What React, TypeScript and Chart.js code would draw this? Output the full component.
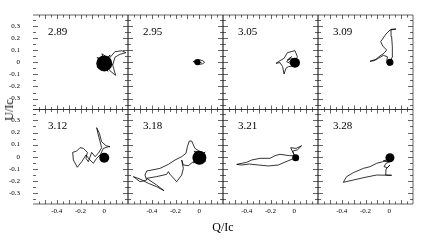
import React, { useEffect, useRef } from 'react';
import { Chart, registerables } from 'chart.js';

Chart.register(...registerables);

// ---------------- DATA ----------------
const panelLabels = ['2.89', '2.95', '3.05', '3.09', '3.12', '3.18', '3.21', '3.28'];
const xTickValues = [-0.4, -0.2, 0];
const yTickValues = [0.3, 0.2, 0.1, 0, -0.1, -0.2, -0.3];
const qRange = [-0.6, 0.2];
const uRange = [-0.39, 0.39];

// trajectories: [Q/Ic, U/Ic]
const path289 = [[0, -0.01], [0.05, 0.06], [-0.06, -0.04], [0.07, -0.02], [-0.06, 0.04], [0.03, -0.075], [-0.02, 0.07], [0.04, 0.03], [0.09, 0.087], [0.147, 0.095], [0.183, 0.079], [0.133, 0.066], [0.09, 0.041], [0.071, -0.023], [0.096, -0.108], [0.048, -0.07], [0.02, -0.03]];
const path295 = [[-0.05, 0.005], [-0.03, 0.02], [0, 0.022], [0.03, 0.012], [0.045, 0], [0.03, -0.012], [0, -0.018], [-0.03, -0.012], [-0.05, 0.005], [-0.02, 0.01], [0.02, -0.005]];
const path305 = [[0.006, -0.004], [0.026, 0.046], [0.006, 0.096], [-0.058, 0.079], [-0.086, 0.032], [-0.12, 0.013], [-0.154, -0.009], [-0.12, -0.003], [-0.098, -0.036], [-0.086, -0.097], [-0.07, -0.05], [-0.05, -0.036], [-0.013, -0.031], [-0.036, -0.009], [-0.064, 0.005], [-0.022, 0.046], [-0.058, 0.019], [-0.013, 0.032], [-0.041, 0.005], [-0.008, 0.019], [0.006, -0.004]];
const path309 = [[0.006, 0], [0.029, 0.052], [0.026, 0.129], [0.02, 0.211], [0.015, 0.272], [0.057, 0.274], [0.006, 0.266], [-0.027, 0.233], [-0.072, 0.17], [-0.055, 0.134], [-0.022, 0.101], [-0.044, 0.074], [-0.078, 0.052], [-0.112, 0.024], [-0.162, 0.008], [-0.128, 0.013], [-0.092, 0.032], [-0.05, 0.057], [-0.016, 0.046], [-0.022, -0.003], [0.001, -0.031], [0.02, -0.009], [0.006, 0]];
const path312 = [[0, -0.008], [-0.036, 0.009], [-0.008, 0.069], [0.034, 0.083], [0.048, 0.083], [0.015, 0.091], [-0.022, 0.124], [-0.041, 0.193], [-0.064, 0.24], [-0.05, 0.18], [-0.022, 0.075], [-0.05, 0.028], [-0.078, 0.001], [-0.106, 0.036], [-0.134, -0.041], [-0.154, -0.013], [-0.142, 0.036], [-0.176, 0.069], [-0.204, 0.075], [-0.232, 0.047], [-0.266, 0.036], [-0.26, -0.027], [-0.227, -0.087], [-0.19, -0.041], [-0.154, 0.014], [-0.12, -0.027], [-0.092, -0.054], [-0.064, -0.013], [-0.036, 0.014], [0, -0.008]];
const path318 = [[0.001, -0.008], [0.05, 0.04], [-0.05, -0.05], [0.055, -0.035], [-0.045, 0.045], [0.006, 0.042], [-0.036, 0.069], [-0.064, 0.13], [-0.084, 0.13], [-0.1, 0.083], [-0.112, 0.028], [-0.148, 0.001], [-0.204, -0.027], [-0.26, -0.063], [-0.331, -0.096], [-0.443, -0.118], [-0.457, -0.151], [-0.443, -0.192], [-0.499, -0.206], [-0.555, -0.164], [-0.499, -0.184], [-0.429, -0.219], [-0.359, -0.247], [-0.297, -0.28], [-0.359, -0.233], [-0.443, -0.178], [-0.359, -0.164], [-0.274, -0.145], [-0.26, -0.123], [-0.246, -0.145], [-0.19, -0.206], [-0.148, -0.151], [-0.134, -0.096], [-0.148, -0.027], [-0.134, -0.068], [-0.092, -0.074], [-0.05, -0.041], [0.001, -0.008]];
const path321 = [[0.012, -0.008], [-0.008, 0.028], [-0.03, 0.075], [0.015, 0.069], [0.062, 0.091], [0.026, 0.056], [-0.013, 0.047], [0.001, 0.009], [-0.041, 0.009], [-0.12, 0.02], [-0.162, 0.009], [-0.204, -0.013], [-0.288, -0.013], [-0.359, -0.027], [-0.401, -0.046], [-0.485, -0.063], [-0.443, -0.068], [-0.378, -0.06], [-0.302, -0.068], [-0.218, -0.076], [-0.134, -0.068], [-0.07, -0.041], [0.012, -0.008]];
const path328 = [[0.006, -0.008], [-0.022, -0.035], [-0.05, -0.035], [0.006, -0.041], [-0.027, -0.054], [-0.044, -0.082], [-0.016, -0.09], [0.006, -0.068], [-0.027, -0.101], [-0.03, -0.151], [0.02, -0.153], [-0.106, -0.151], [-0.204, -0.17], [-0.302, -0.192], [-0.387, -0.211], [-0.359, -0.164], [-0.302, -0.131], [-0.218, -0.096], [-0.162, -0.082], [-0.106, -0.054], [-0.055, -0.041], [0.006, -0.008]];

// dense core of each trajectory (centre in Q/Ic, U/Ic)
const coreCentres = [[0, -0.01], [-0.015, 0], [0.006, -0.004], [0.006, 0], [0, -0.008], [0.001, -0.008], [0.012, -0.008], [0.006, -0.008]];

const panelPaths = [path289, path295, path305, path309, path312, path318, path321, path328];

// ---------------- STYLE / LAYOUT ----------------
const FIG_W = 425;
const FIG_H = 242;
const GRID_L = 33;
const GRID_T = 15;
const GRID_R = 413;
const GRID_B = 204;
const COLS = 4;
const ROWS = 2;
const CORE_RADIUS = [8, 3, 5, 3.5, 5, 7, 3.5, 4.5];
const SERIF = '"Liberation Serif", "Times New Roman", serif';

function fmt(v: number) {
  if (Math.abs(v) < 1e-9) return '0';
  return v.toFixed(1);
}

function zeroPad(s: any) {
  s.paddingTop = 0;
  s.paddingBottom = 0;
  s.paddingLeft = 0;
  s.paddingRight = 0;
}

function Panel({ idx }: { idx: number }) {
  const ref = useRef<HTMLCanvasElement | null>(null);
  useEffect(() => {
    const col = idx % COLS;
    const row = Math.floor(idx / COLS);
    const pw = (GRID_R - GRID_L) / COLS;
    const ph = (GRID_B - GRID_T) / ROWS;
    const left = GRID_L + col * pw;
    const top = GRID_T + row * ph;
    const right = left + pw;
    const bottom = top + ph;
    const showY = col === 0;
    const showX = row === ROWS - 1;

    const frame = {
      id: 'frame' + idx,
      afterDraw(chart: any) {
        const { ctx, chartArea } = chart;
        const xs = chart.scales.x;
        const ys = chart.scales.y;
        const L = chartArea.left, R = chartArea.right, T = chartArea.top, B = chartArea.bottom;
        ctx.save();
        ctx.strokeStyle = '#222';
        ctx.lineWidth = 0.7;
        ctx.beginPath();
        ctx.moveTo(L, T); ctx.lineTo(R, T);
        ctx.moveTo(R, T); ctx.lineTo(R, B);
        ctx.moveTo(L, B); ctx.lineTo(R, B);
        if (col > 0) { ctx.moveTo(L, T); ctx.lineTo(L, B); }
        for (let i = -11; i <= 3; i++) {
          const v = i * 0.05;
          const px = Math.round(xs.getPixelForValue(v)) + 0.5;
          const len = i % 2 === 0 ? 4 : 2.5;
          ctx.moveTo(px, B); ctx.lineTo(px, B - len);
          ctx.moveTo(px, T); ctx.lineTo(px, T + len);
        }
        for (let i = -7; i <= 7; i++) {
          const v = i * 0.05;
          const py = Math.round(ys.getPixelForValue(v)) + 0.5;
          const len = i % 2 === 0 ? 5 : 3;
          ctx.moveTo(L, py); ctx.lineTo(L + len, py);
          ctx.moveTo(R, py); ctx.lineTo(R - len, py);
        }
        ctx.stroke();
        ctx.fillStyle = '#000';
        ctx.font = '11px ' + SERIF;
        ctx.textBaseline = 'middle';
        ctx.textAlign = 'left';
        ctx.fillText(panelLabels[idx], L + 15, T + 17);
        ctx.restore();
      },
    };

    const path = panelPaths[idx];
    const core = coreCentres[idx];
    const chart = new Chart(ref.current as HTMLCanvasElement, {
      type: 'scatter',
      data: {
        datasets: [
          {
            data: path.map(([x, y]) => ({ x, y })),
            showLine: true,
            borderColor: '#000',
            borderWidth: 0.8,
            pointRadius: 0,
            pointHoverRadius: 0,
            tension: 0,
          } as any,
          {
            data: [{ x: core[0], y: core[1] }],
            showLine: false,
            pointRadius: CORE_RADIUS[idx],
            pointHoverRadius: 0,
            pointBackgroundColor: '#000',
            pointBorderColor: '#000',
            pointBorderWidth: 0,
          } as any,
        ],
      },
      options: {
        responsive: false,
        animation: false,
        events: [],
        layout: {
          autoPadding: false,
          padding: {
            left: showY ? 0 : left,
            top: top,
            right: FIG_W - right,
            bottom: showX ? 0 : FIG_H - bottom,
          },
        },
        plugins: { legend: { display: false }, tooltip: { enabled: false } },
        scales: {
          x: {
            type: 'linear',
            position: 'bottom',
            min: qRange[0],
            max: qRange[1],
            afterBuildTicks: (s: any) => { s.ticks = xTickValues.map((v) => ({ value: v })); },
            afterFit: (s: any) => { s.height = showX ? FIG_H - bottom : 0; zeroPad(s); },
            grid: { display: false, drawTicks: false },
            border: { display: false },
            ticks: {
              display: showX,
              color: '#000',
              padding: 3,
              maxRotation: 0,
              autoSkip: false,
              font: { family: SERIF, size: 7 },
              callback: (v: any) => fmt(Number(v)),
            },
          },
          y: {
            type: 'linear',
            position: 'left',
            min: uRange[0],
            max: uRange[1],
            afterBuildTicks: (s: any) => { s.ticks = yTickValues.map((v) => ({ value: v })); },
            afterFit: (s: any) => { s.width = showY ? left : 0; zeroPad(s); },
            grid: { display: false, drawTicks: false },
            border: { display: false },
            ticks: {
              display: showY,
              color: '#000',
              padding: 13,
              autoSkip: false,
              font: { family: SERIF, size: 7 },
              callback: (v: any) => fmt(Number(v)),
            },
          },
        },
      } as any,
      plugins: [frame],
    });
    return () => chart.destroy();
  }, [idx]);
  return (
    <canvas
      ref={ref}
      width={FIG_W}
      height={FIG_H}
      style={{ position: 'absolute', left: 0, top: 0, width: FIG_W, height: FIG_H }}
    />
  );
}

export default function App() {
  return (
    <div style={{ position: 'fixed', left: 0, top: 0, width: FIG_W, height: FIG_H, background: '#fff', overflow: 'hidden' }}>
      {panelLabels.map((_, i) => (
        <Panel key={i} idx={i} />
      ))}
      <div
        style={{
          position: 'absolute',
          left: (GRID_L + GRID_R) / 2,
          top: 221,
          transform: 'translateX(-50%)',
          font: '12px ' + SERIF,
          lineHeight: '12px',
          whiteSpace: 'nowrap',
          color: '#000',
        }}
      >
        Q/Ic
      </div>
      <div
        style={{
          position: 'absolute',
          left: 8.5,
          top: (GRID_T + GRID_B) / 2,
          transform: 'translate(-50%, -50%) rotate(-90deg)',
          font: '12px ' + SERIF,
          lineHeight: '12px',
          whiteSpace: 'nowrap',
          color: '#000',
        }}
      >
        U/Ic
      </div>
    </div>
  );
}
